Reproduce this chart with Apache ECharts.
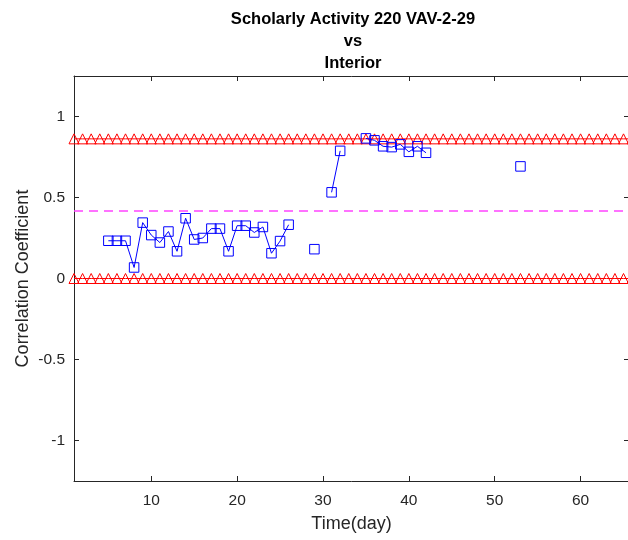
<!DOCTYPE html>
<html>
<head>
<meta charset="utf-8">
<script src="https://cdn.jsdelivr.net/npm/echarts@6/dist/echarts.min.js"></script>
<style>
  html, body { margin: 0; padding: 0; background: #fff; }
  #chart { width: 628px; height: 540px; }
</style>
</head>
<body>
<div id="chart"></div>
<script>
// correlation per day, null where there is no reading (breaks the line)
const days   = [5, 6, 7, 8, 9, 10, 11, 12, 13, 14, 15, 16, 17, 18, 19, 20, 21, 22, 23, 24, 25, 26, 27, 29, 30, 31, 32, 33, 35, 36, 37, 38, 39, 40, 41, 42, 43, 53];
const values = [0.233, 0.233, 0.233, 0.068, 0.345, 0.268, 0.222, 0.29, 0.168, 0.372, 0.241, 0.25, 0.308, 0.308, 0.168, 0.326, 0.326, 0.284, 0.318, 0.156, 0.231, 0.332, null, 0.181, null, 0.532, 0.788, null, 0.865, 0.853, 0.816, 0.811, 0.828, 0.782, 0.816, 0.776, null, 0.692];

// control limits, marked with triangles on every day
const limitDays = [1, 2, 3, 4, 5, 6, 7, 8, 9, 10, 11, 12, 13, 14, 15, 16, 17, 18, 19, 20, 21, 22, 23, 24, 25, 26, 27, 28, 29, 30, 31, 32, 33, 34, 35, 36, 37, 38, 39, 40, 41, 42, 43, 44, 45, 46, 47, 48, 49, 50, 51, 52, 53, 54, 55, 56, 57, 58, 59, 60, 61, 62, 63, 64, 65, 66];
const upperLimit = 0.862;
const lowerLimit = 0.0;
const meanLevel = 0.424;

const xTicks = [10, 20, 30, 40, 50, 60];
const yTicks = [-1, -0.5, 0, 0.5, 1];

const axisColor = '#262626';
const font = 'Liberation Sans, Arial, Helvetica, sans-serif';

const chart = echarts.init(document.getElementById('chart'), null, { renderer: 'canvas' });

const mainPts = days.map((d, i) => [d, values[i] === null ? '-' : values[i]]);
const upperPts = limitDays.map(d => [d, upperLimit]);
const lowerPts = limitDays.map(d => [d, lowerLimit]);

const xBase = {
  type: 'value', min: 1, max: 65.64,
  splitLine: { show: false },
  axisLine: { onZero: false, lineStyle: { color: axisColor, width: 1 } },
  axisTick: { inside: true, length: 5, customValues: xTicks, lineStyle: { color: axisColor } }
};
const yBase = {
  type: 'value', min: -1.25, max: 1.25,
  splitLine: { show: false },
  axisLine: { onZero: false, lineStyle: { color: axisColor, width: 1 } },
  axisTick: { inside: true, length: 5, customValues: yTicks, lineStyle: { color: axisColor } }
};

const limitSeries = pts => ({
  type: 'line',
  data: pts,
  symbol: 'triangle',
  symbolSize: [10, 10],
  showAllSymbol: true,
  clip: false,
  z: 3,
  lineStyle: { color: '#ff0000', width: 1 },
  itemStyle: { color: 'rgba(0,0,0,0)', borderColor: '#ff0000', borderWidth: 1 },
  emphasis: { disabled: true }
});

const option = {
  animation: false,
  backgroundColor: '#ffffff',
  title: {
    text: 'Scholarly Activity 220 VAV-2-29\nvs\nInterior',
    left: 348,
    top: 3,
    textAlign: 'center',
    textStyle: { fontFamily: font, fontSize: 16.5, fontWeight: 'bold', color: '#000', lineHeight: 22 }
  },
  grid: { left: 74, top: 76, width: 555, height: 405, outerBoundsMode: 'none' },
  xAxis: [
    Object.assign({}, xBase, {
      position: 'bottom',
      name: 'Time(day)',
      nameLocation: 'middle',
      nameGap: 34,
      nameMoveOverlap: false,
      nameTextStyle: { fontFamily: font, fontSize: 18, color: axisColor },
      axisLabel: { customValues: xTicks, margin: 12, fontFamily: font, fontSize: 15.5, color: axisColor }
    }),
    Object.assign({}, xBase, { position: 'top', axisLabel: { show: false } })
  ],
  yAxis: [
    Object.assign({}, yBase, {
      position: 'left',
      name: 'Correlation Coefficient',
      nameLocation: 'middle',
      nameGap: 42,
      nameMoveOverlap: false,
      nameTextStyle: { fontFamily: font, fontSize: 18, color: axisColor },
      axisLabel: { customValues: yTicks, margin: 9, fontFamily: font, fontSize: 15.5, color: axisColor }
    }),
    Object.assign({}, yBase, { position: 'right', axisLabel: { show: false } })
  ],
  series: [
    {
      type: 'line',
      data: mainPts,
      connectNulls: false,
      symbol: 'rect',
      symbolSize: 9.5,
      showAllSymbol: true,
      z: 4,
      lineStyle: { color: '#0000ff', width: 1 },
      itemStyle: { color: 'rgba(0,0,0,0)', borderColor: '#0000ff', borderWidth: 1 },
      emphasis: { disabled: true },
      markLine: {
        silent: true,
        symbol: ['none', 'none'],
        label: { show: false },
        lineStyle: { color: '#ff44ff', width: 1.5, type: [9, 6] },
        data: [{ yAxis: meanLevel }]
      }
    },
    limitSeries(upperPts),
    limitSeries(lowerPts)
  ]
};

chart.setOption(option);
</script>
</body>
</html>
